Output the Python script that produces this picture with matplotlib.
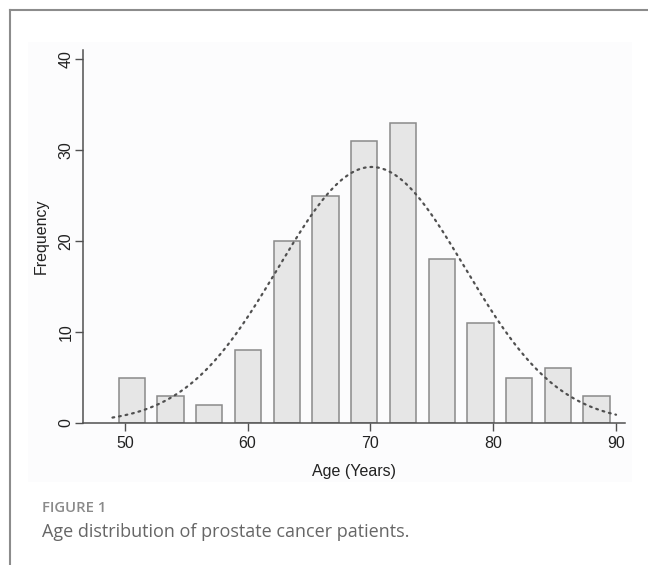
import numpy as np
import matplotlib
matplotlib.use("Agg")
import matplotlib.pyplot as plt
from matplotlib.lines import Line2D
from matplotlib.patches import Rectangle

# histogram of patient ages (13 bins from 49 to 90)
bin_start = 49.0
bin_end = 90.0
counts = [5, 3, 2, 8, 20, 25, 31, 33, 18, 11, 5, 6, 3]
# fitted normal curve parameters
age_mean = 70.1
age_sd = 7.6

xticks = [50, 60, 70, 80, 90]
yticks = [0, 10, 20, 30, 40]

nbins = len(counts)
bw = (bin_end - bin_start) / nbins
centers = bin_start + bw * (np.arange(nbins) + 0.5)
n_total = sum(counts)

fig = plt.figure(figsize=(6.48, 5.65), dpi=100)

# faint graph region and outer frame
fig.add_artist(Rectangle((28/648, 1-482/565), (632-28)/648, (482-42)/565,
                         transform=fig.transFigure, facecolor="#fcfcfd",
                         edgecolor="none", zorder=0))
fig.add_artist(Line2D([10/648, 1], [1-10/565, 1-10/565], transform=fig.transFigure,
                      color="#8c8c8c", lw=1.5))
fig.add_artist(Line2D([10/648, 10/648], [0, 1-10/565], transform=fig.transFigure,
                      color="#8c8c8c", lw=1.5))

ax = fig.add_axes([83/648, 1-423/565, (625-83)/648, (423-50)/565])
ax.patch.set_alpha(0)

ax.bar(centers, counts, width=bw*0.68, color="#e6e6e6", edgecolor="#8a8a8a",
       linewidth=1.1, zorder=2)

xs = np.linspace(bin_start, bin_end, 300)
dens = n_total * bw / (age_sd * np.sqrt(2*np.pi)) * np.exp(-(xs-age_mean)**2 / (2*age_sd**2))
ax.plot(xs, dens, color="#505050", lw=1.6, linestyle=(0, (0.8, 2.2)),
        dash_capstyle="round", zorder=3)

ax.set_xlim(46.6, 90.73)
ax.set_ylim(0, 41)
ax.set_xticks(xticks)
ax.set_yticks(yticks)
for s in ["top", "right"]:
    ax.spines[s].set_visible(False)
for s in ["left", "bottom"]:
    ax.spines[s].set_color("#505050")
    ax.spines[s].set_linewidth(1.1)

tf = "Liberation Sans"
ax.tick_params(axis="both", direction="out", length=6, width=1.0, color="#505050",
               labelsize=11.5, labelcolor="#222222")
for lab in ax.get_xticklabels() + ax.get_yticklabels():
    lab.set_family(tf)
ax.tick_params(axis="y", labelrotation=90, pad=1)
for lab in ax.get_yticklabels():
    lab.set_va("center")
ax.set_xlabel("Age (Years)", fontsize=11.5, family=tf, color="#222222", labelpad=9)
ax.set_ylabel("Frequency", fontsize=11.5, family=tf, color="#222222", labelpad=7)

fig.text(42/648, 1-508/565, "FIGURE 1", fontsize=10.7, family="Open Sans",
         fontweight="semibold", color="#8a8a8a", va="center", ha="left")
fig.text(42/648, 1-532/565, "Age distribution of prostate cancer patients.",
         fontsize=13, family="Open Sans", color="#666666", va="center", ha="left")

fig.savefig("out.png", dpi=100)
